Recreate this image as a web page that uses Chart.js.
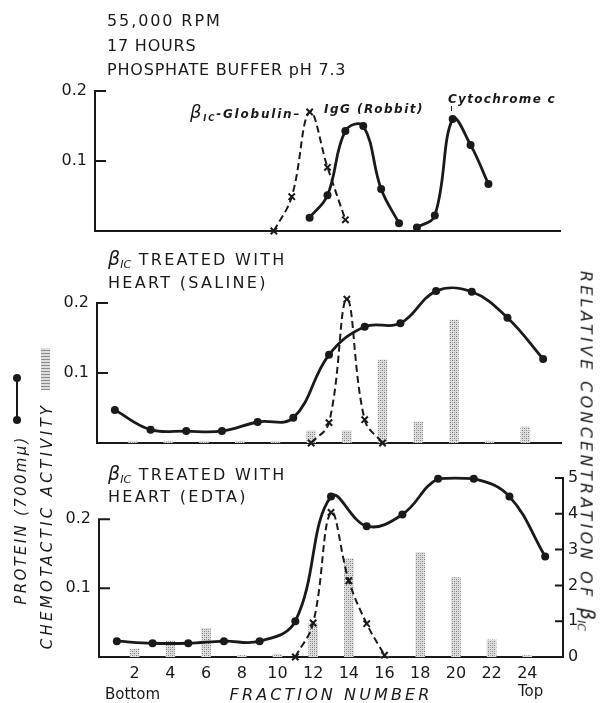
<!DOCTYPE html>
<html>
<head>
<meta charset="utf-8">
<script src="https://cdn.jsdelivr.net/npm/chart.js@4.4.1/dist/chart.umd.min.js"></script>
<style>
    html, body { margin: 0; padding: 0; background: #fff; }
    #page { position: relative; width: 605px; height: 703px; overflow: hidden; font-family: "DejaVu Sans", sans-serif; color: #1a1a1a; }
    canvas { position: absolute; left: 0; }
    .t { position: absolute; white-space: nowrap; line-height: 18px; }
    .it { font-style: italic; }
    .c { transform: translate(-50%, -50%); }
    .rl { transform: translate(-50%, -50%) rotate(-90deg); }
    .rr { transform: translate(-50%, -50%) rotate(90deg); }
    sub { font-size: 0.7em; vertical-align: -0.3em; }
    .swatch { position: absolute; }
</style>
</head>
<body>
<div id="page">
    <canvas id="panelA" width="605" height="256" style="top:0px"></canvas>
    <canvas id="panelB" width="605" height="228" style="top:240px"></canvas>
    <canvas id="panelC" width="605" height="248" style="top:455px"></canvas>

    <div class="t" style="left:107px;top:12px;font-size:16px;letter-spacing:1.9px">55,000 RPM</div>
    <div class="t" style="left:107px;top:37px;font-size:16px;letter-spacing:0.8px">17 HOURS</div>
    <div class="t" style="left:107px;top:61px;font-size:16px;letter-spacing:0.8px">PHOSPHATE BUFFER pH 7.3</div>

    <div class="t it" style="left:190px;top:103px;font-size:12px;font-weight:bold;letter-spacing:1.8px"><span style="font-size:18px;font-weight:normal">β</span><sub>IC</sub>-Globulin–</div>
    <div class="t it" style="left:324px;top:100px;font-size:12px;font-weight:bold;letter-spacing:1.5px">IgG (Robbit)</div>
    <div class="t it" style="left:448px;top:90px;font-size:12px;font-weight:bold;letter-spacing:1.3px">Cytochrome c</div>
    <div class="swatch" style="left:451px;top:106px;width:1px;height:5px;background:#1a1a1a"></div>

    <div class="t" style="left:108px;top:249px;font-size:16px;letter-spacing:2.3px"><i style="font-size:19px;letter-spacing:0">β</i><sub class="it" style="letter-spacing:0">IC</sub> TREATED WITH</div>
    <div class="t" style="left:108px;top:274px;font-size:16px;letter-spacing:2.3px">HEART (SALINE)</div>
    <div class="t" style="left:108px;top:464px;font-size:16px;letter-spacing:2.3px"><i style="font-size:19px;letter-spacing:0">β</i><sub class="it" style="letter-spacing:0">IC</sub> TREATED WITH</div>
    <div class="t" style="left:108px;top:488px;font-size:16px;letter-spacing:2.3px">HEART (EDTA)</div>

    <div class="t" style="left:105px;top:685px;font-size:15px">Bottom</div>
    <div class="t it c" style="left:331px;top:695px;font-size:16px;letter-spacing:3.1px">FRACTION NUMBER</div>
    <div class="t" style="left:518px;top:682px;font-size:15px">Top</div>

    <div class="t it rr" style="left:584px;top:451px;font-size:16px;letter-spacing:3.3px">RELATIVE CONCENTRATION OF <span style="font-size:19px;letter-spacing:0">β</span><sub style="letter-spacing:0">IC</sub></div>
    <div class="t it rl" style="left:21px;top:520px;font-size:15px;letter-spacing:2.3px">PROTEIN (700mμ)</div>
    <div class="t it rl" style="left:47px;top:526px;font-size:15px;letter-spacing:3.3px">CHEMOTACTIC ACTIVITY</div>

    <div class="swatch" style="left:16px;top:378px;width:2px;height:42px;background:#1a1a1a"></div>
    <div class="swatch" style="left:13px;top:374px;width:8px;height:8px;border-radius:50%;background:#1a1a1a"></div>
    <div class="swatch" style="left:13px;top:416px;width:8px;height:8px;border-radius:50%;background:#1a1a1a"></div>
    <div class="swatch" id="stippleKey" style="left:41px;top:348px;width:9px;height:42px"></div>
</div>

<script>
// ---- data ----
// top panel: phosphate buffer markers (protein, 700 m\u03bc)
const globulinFractions = [10, 11, 12, 13, 14];
const globulinProtein = [0, 0.049, 0.17, 0.091, 0.016];
const iggFractions = [12, 13, 14, 15, 16, 17];
const iggProtein = [0.019, 0.051, 0.143, 0.15, 0.06, 0.011];
const cytochromeFractions = [18, 19, 20, 21, 22];
const cytochromeProtein = [0.005, 0.022, 0.16, 0.123, 0.067];

// middle panel: treated with heart (saline)
const proteinFractions = [1, 3, 5, 7, 9, 11, 13, 15, 17, 19, 21, 23, 25];
const salineProtein = [0.047, 0.019, 0.017, 0.017, 0.030, 0.036, 0.126, 0.166, 0.171, 0.217, 0.216, 0.179, 0.12];
const salineConcFractions = [12, 13, 14, 15, 16];
const salineConc = [0, 0.56, 3.95, 0.64, 0];
const activityFractions = [2, 4, 6, 8, 10, 12, 14, 16, 18, 20, 22, 24];
const salineActivity = [0.05, 0.05, 0.05, 0.05, 0.05, 0.33, 0.33, 2.28, 0.58, 3.38, 0.05, 0.44];

// bottom panel: treated with heart (EDTA)
const edtaProtein = [0.023, 0.02, 0.02, 0.023, 0.023, 0.052, 0.233, 0.19, 0.207, 0.259, 0.259, 0.233, 0.146];
const edtaConcFractions = [11, 12, 13, 14, 15, 16];
const edtaConc = [0, 0.95, 4.04, 2.13, 0.93, 0.05];
const edtaActivity = [0.22, 0.45, 0.8, 0.04, 0.08, 0.93, 2.75, 0, 2.92, 2.22, 0.48, 0.04];

// tick labels
const fractionTicks = [2, 4, 6, 8, 10, 12, 14, 16, 18, 20, 22, 24];
const proteinTicks = [0.1, 0.2];
const concTicks = [0, 1, 2, 3, 4, 5];

const ink = '#1a1a1a';
const W = 605;

const pts = (xs, ys) => xs.map((x, i) => ({ x: x, y: ys[i] }));

// stippled fill for the chemotactic activity bars
const makeStipple = () => {
    const c = document.createElement('canvas');
    c.width = 4; c.height = 4;
    const g = c.getContext('2d');
    g.fillStyle = '#dedede'; g.fillRect(0, 0, 4, 4);
    g.fillStyle = '#7a7a7a'; g.fillRect(0, 0, 1, 1); g.fillRect(2, 2, 1, 1);
    g.fillStyle = '#a8a8a8'; g.fillRect(2, 0, 1, 1); g.fillRect(0, 2, 1, 1);
    return g.createPattern(c, 'repeat');
};
const stipple = makeStipple();
document.getElementById('stippleKey').style.background =
    'repeating-linear-gradient(0deg,#8a8a8a 0 1px,#dedede 1px 3px)';

const solidLine = (data, yAxisID) => ({
    type: 'line', data: data, yAxisID: yAxisID || 'y',
    borderColor: ink, borderWidth: 2.8, tension: 0.4, fill: false,
    pointRadius: 4, pointBackgroundColor: ink, pointBorderWidth: 0,
    clip: false, order: 1
});
const dashedLine = (data, yAxisID) => ({
    type: 'line', data: data, yAxisID: yAxisID || 'y',
    borderColor: ink, borderWidth: 2, borderDash: [7, 4], tension: 0.4, fill: false,
    pointStyle: 'crossRot', pointRadius: 4.5, pointBorderWidth: 2, pointBorderColor: ink,
    clip: false, order: 2
});
const bars = (data) => ({
    type: 'bar', data: data, yAxisID: 'y2',
    backgroundColor: stipple, borderWidth: 0, barThickness: 9, order: 3
});

// left axis drawn only up to 0.2 with inward ticks; right axis ticks inward
const axisMarks = {
    id: 'axisMarks',
    afterDatasetsDraw(chart, args, opts) {
        const ctx = chart.ctx;
        const y = chart.scales.y;
        const area = chart.chartArea;
        ctx.save();
        ctx.strokeStyle = ink;
        ctx.lineWidth = 2;
        ctx.beginPath();
        ctx.moveTo(area.left, y.getPixelForValue(0) + 1);
        ctx.lineTo(area.left, y.getPixelForValue(0.2) - 1);
        proteinTicks.forEach(v => {
            const py = y.getPixelForValue(v);
            ctx.moveTo(area.left - 1, py);
            ctx.lineTo(area.left + 11, py);
        });
        if (opts.rightAxis) {
            const y2 = chart.scales.y2;
            concTicks.forEach(v => {
                const py = y2.getPixelForValue(v);
                ctx.moveTo(area.right + 1, py);
                ctx.lineTo(area.right - 8, py);
            });
        }
        ctx.stroke();
        ctx.restore();
    }
};

const makePanel = (id, box, datasets, yMax, showX, showRight) => {
    const H = document.getElementById(id).height;
    // sizes that get nudged below until the plot area sits where it should
    const dims = { top: box.top, xH: H - box.bottom, yW: box.left, right: W - box.right };
    const chart = new Chart(document.getElementById(id), {
        data: { datasets: datasets },
        plugins: [axisMarks],
        options: {
            responsive: false,
            animation: false,
            devicePixelRatio: 1,
            layout: { autoPadding: false, padding: { top: dims.top, left: 0, bottom: 0, right: showRight ? 0 : dims.right } },
            plugins: {
                legend: { display: false },
                tooltip: { enabled: false },
                axisMarks: { rightAxis: showRight }
            },
            scales: {
                x: {
                    type: 'linear', min: 0, max: 26, offset: false,
                    grid: { display: false, drawTicks: false, offset: false },
                    border: { display: true, color: ink, width: 2 },
                    ticks: { display: showX, padding: 7, color: ink, font: { family: 'DejaVu Sans', size: 16 } },
                    afterBuildTicks: s => { s.ticks = fractionTicks.map(v => ({ value: v })); },
                    afterFit: s => { s.height = dims.xH; }
                },
                y: {
                    position: 'left', min: 0, max: yMax,
                    grid: { display: false, drawTicks: false },
                    border: { display: false },
                    ticks: {
                        padding: 8, color: ink, font: { family: 'DejaVu Sans', size: 16 },
                        callback: v => v.toFixed(1)
                    },
                    afterBuildTicks: s => { s.ticks = proteinTicks.map(v => ({ value: v })); },
                    afterFit: s => { s.width = dims.yW; }
                },
                y2: {
                    position: 'right', min: 0, max: 5, display: showRight,
                    grid: { display: false, drawTicks: false },
                    border: { display: true, color: ink, width: 2 },
                    ticks: { padding: 5, color: ink, font: { family: 'DejaVu Sans', size: 16 } },
                    afterBuildTicks: s => { s.ticks = concTicks.map(v => ({ value: v })); },
                    afterFit: s => { s.width = showRight ? dims.right : 0; }
                }
            }
        }
    });
    for (let pass = 0; pass < 2; pass++) {
        const a = chart.chartArea;
        dims.top += box.top - a.top;
        dims.yW += box.left - a.left;
        dims.right += a.right - box.right;
        dims.xH += a.bottom - box.bottom;
        chart.options.layout.padding.top = dims.top;
        if (!showRight) chart.options.layout.padding.right = dims.right;
        chart.update();
    }
    return chart;
};

// top: phosphate buffer
makePanel('panelA', { left: 95, right: 560, top: 91, bottom: 231 }, [
    dashedLine(pts(globulinFractions, globulinProtein), 'y'),
    solidLine(pts(iggFractions, iggProtein)),
    solidLine(pts(cytochromeFractions, cytochromeProtein))
], 0.2, false, false);

// middle: heart (saline)
makePanel('panelB', { left: 97, right: 561, top: 21, bottom: 203 }, [
    bars(pts(activityFractions, salineActivity)),
    dashedLine(pts(salineConcFractions, salineConc), 'y2'),
    solidLine(pts(proteinFractions, salineProtein))
], 0.26, false, false);

// bottom: heart (EDTA)
makePanel('panelC', { left: 99, right: 563, top: 23, bottom: 202 }, [
    bars(pts(activityFractions, edtaActivity)),
    dashedLine(pts(edtaConcFractions, edtaConc), 'y2'),
    solidLine(pts(proteinFractions, edtaProtein))
], 0.26, true, true);
</script>
</body>
</html>
